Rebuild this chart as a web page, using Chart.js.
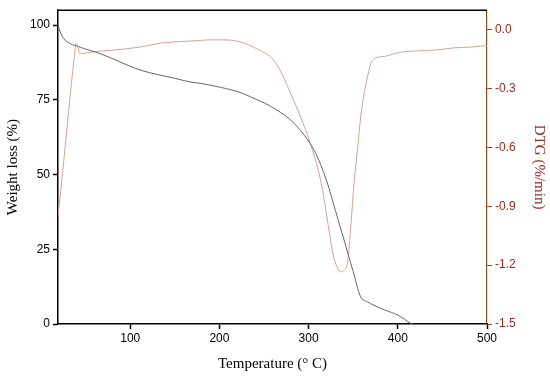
<!DOCTYPE html>
<html>
<head>
<meta charset="utf-8">
<script src="https://cdn.jsdelivr.net/npm/chart.js@4"></script>
<style>
  html, body { margin: 0; padding: 0; background: #fff; }
  #wrap { width: 550px; height: 377px; }
</style>
</head>
<body>
<div id="wrap"><canvas id="myChart" width="550" height="377"></canvas></div>
<script>
// TG curve (weight loss, %)
var tgTemp = [19, 22.5, 27, 44, 66, 111, 150, 167, 179, 201, 223, 235, 257, 280, 295, 308, 320, 330, 340, 350, 358, 366, 373, 386, 400, 414.6, 420];
var tgWeight = [100, 97, 95, 92.6, 90.5, 85, 82.2, 81, 80.5, 79.2, 77.5, 76, 72.9, 68.2, 63.2, 57.1, 48.1, 38, 27.8, 17.5, 9.3, 7.4, 6.3, 4.6, 3, 0.2, -0.5];

// DTG curve (%/min)
var dtgTemp = [19, 23, 28, 33, 37, 39.3, 41, 43.8, 48, 55, 77, 111, 134, 164, 179, 190, 210, 224, 242, 261, 270, 280, 291, 302, 315, 321, 328, 333, 336, 340, 343.5, 347, 351, 355, 358.4, 362, 366, 370, 373.4, 377, 384.6, 403, 420, 445, 463, 482, 500];
var dtgValue = [-0.95, -0.78, -0.55, -0.32, -0.15, -0.07, -0.08, -0.12, -0.12, -0.114, -0.105, -0.088, -0.068, -0.058, -0.054, -0.051, -0.052, -0.063, -0.097, -0.156, -0.224, -0.326, -0.445, -0.58, -0.8, -0.97, -1.157, -1.22, -1.234, -1.225, -1.19, -1.02, -0.78, -0.6, -0.445, -0.33, -0.24, -0.17, -0.148, -0.14, -0.136, -0.114, -0.108, -0.102, -0.092, -0.088, -0.08];

var xTicks = [100, 200, 300, 400, 500];
var leftTicks = [0, 25, 50, 75, 100];
var rightTicks = [0.0, -0.3, -0.6, -0.9, -1.2, -1.5];

function toPoints(xs, ys) {
    var pts = [];
    for (let i = 0; i < xs.length; i++) pts.push({x: xs[i], y: ys[i]});
    return pts;
}

var tickFont = {family: "'Liberation Sans', Arial, sans-serif", size: 12};
var titleFont = {family: "'Liberation Serif', 'Times New Roman', serif", size: 15};

var topBorder = {
    id: 'topBorder',
    afterDraw: function(chart) {
        const a = chart.chartArea, c = chart.ctx;
        c.save();
        c.strokeStyle = '#000';
        c.lineWidth = 1.5;
        c.beginPath();
        c.moveTo(a.left, a.top);
        c.lineTo(a.right, a.top);
        c.stroke();
        c.restore();
    }
};

const ctx = document.getElementById('myChart').getContext('2d');
const myChart = new Chart(ctx, {
    type: 'line',
    data: {
        datasets: [{
            label: 'TG',
            data: toPoints(tgTemp, tgWeight),
            yAxisID: 'y',
            borderColor: '#66666f',
            borderWidth: 1,
            pointRadius: 0,
            cubicInterpolationMode: 'monotone'
        }, {
            label: 'DTG',
            data: toPoints(dtgTemp, dtgValue),
            yAxisID: 'y2',
            borderColor: '#d4a393',
            borderWidth: 1,
            pointRadius: 0,
            cubicInterpolationMode: 'monotone'
        }]
    },
    options: {
        responsive: false,
        animation: false,
        layout: {padding: {top: 10, left: 0, right: 0, bottom: 0}},
        plugins: {legend: {display: false}, tooltip: {enabled: false}},
        scales: {
            x: {
                type: 'linear',
                min: 19,
                max: 500,
                afterBuildTicks: function(scale) { scale.ticks = xTicks.map(v => ({value: v})); },
                afterFit: function(scale) { scale.height = 53; },
                grid: {drawOnChartArea: false, drawTicks: true, tickLength: 5, color: '#000', tickWidth: 1.5},
                border: {color: '#000', width: 1.5},
                ticks: {font: tickFont, color: '#000', padding: 2, maxRotation: 0},
                title: {display: true, text: 'Temperature (° C)', font: titleFont, color: '#000', padding: {top: 4}}
            },
            y: {
                position: 'left',
                min: 0,
                max: 105,
                afterBuildTicks: function(scale) { scale.ticks = leftTicks.map(v => ({value: v})); },
                afterFit: function(scale) { scale.width = 58; },
                grid: {drawOnChartArea: false, drawTicks: true, tickLength: 5, color: '#000', tickWidth: 1.5},
                border: {color: '#000', width: 1.5},
                ticks: {font: tickFont, color: '#000', padding: 3},
                title: {display: true, text: 'Weight loss (%)', font: titleFont, color: '#000', padding: {bottom: 2}}
            },
            y2: {
                position: 'right',
                min: -1.5,
                max: 0.1,
                afterBuildTicks: function(scale) { scale.ticks = rightTicks.map(v => ({value: v})); },
                afterFit: function(scale) { scale.width = 63; },
                grid: {drawOnChartArea: false, drawTicks: true, tickLength: 5, color: '#8b4a1e', tickWidth: 1},
                border: {color: '#8b4a1e', width: 1.2},
                ticks: {
                    font: tickFont, color: '#9a2a1c', padding: 3,
                    callback: function(v) { return v.toFixed(1); }
                },
                title: {display: true, text: 'DTG (%/min)', font: titleFont, color: '#9a2a1c', padding: {top: 2}}
            }
        }
    },
    plugins: [topBorder]
});
</script>
</body>
</html>
